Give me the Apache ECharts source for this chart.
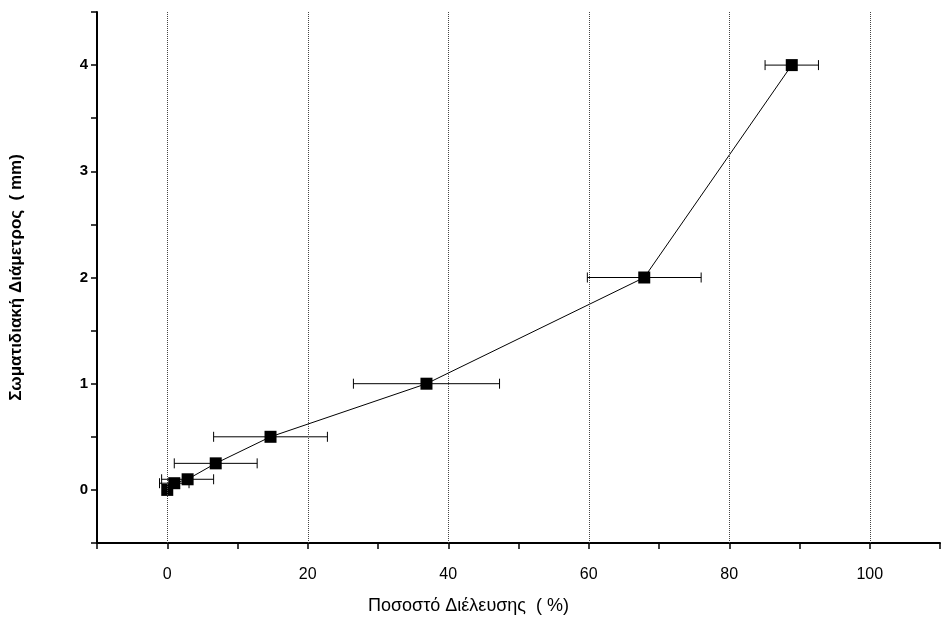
<!DOCTYPE html>
<html>
<head>
<meta charset="utf-8">
<script src="https://cdn.jsdelivr.net/npm/echarts@6/dist/echarts.min.js"></script>
<style>
    html, body {
        margin: 0;
        padding: 0;
        background: #ffffff;
    }

    #chart {
        width: 943px;
        height: 629px;
    }
</style>
</head>
<body>
<div id="chart"></div>
<script>
// 数据 - passing percentage vs particle diameter
var passPercent = [0, 1.0, 2.9, 6.9, 14.7, 36.9, 67.9, 88.9];
var diameterMm = [0, 0.063, 0.1, 0.25, 0.5, 1, 2, 4];
var passErr = [0.3, 2.1, 3.7, 5.9, 8.1, 10.4, 8.1, 3.8];
var gridXs = [0, 20, 40, 60, 80, 100];

var linePoints = passPercent.map(function (x, i) {
    return [x, diameterMm[i]];
});
var errPoints = passPercent.map(function (x, i) {
    return [x, diameterMm[i], x - passErr[i], x + passErr[i]];
});

var labelFont = 'Liberation Sans, Arial, sans-serif';

// horizontal error bars with caps
function renderErr(params, api) {
    var y = api.value(1);
    var lo = api.coord([api.value(2), y]);
    var hi = api.coord([api.value(3), y]);
    var h = 5;
    var st = {stroke: '#000', lineWidth: 1};
    return {
        type: 'group',
        children: [
            {type: 'line', shape: {x1: lo[0], y1: lo[1], x2: hi[0], y2: hi[1]}, style: st},
            {type: 'line', shape: {x1: lo[0], y1: lo[1] - h, x2: lo[0], y2: lo[1] + h}, style: st},
            {type: 'line', shape: {x1: hi[0], y1: hi[1] - h, x2: hi[0], y2: hi[1] + h}, style: st}
        ]
    };
}

var myChart = echarts.init(document.getElementById('chart'));
myChart.setOption({
    animation: false,
    grid: {left: 97, right: 1, top: 12, bottom: 86},
    xAxis: {
        type: 'value',
        min: -10,
        max: 110,
        interval: 10,
        name: 'Ποσοστό Διέλευσης  ( %)',
        nameLocation: 'middle',
        nameGap: 54,
        nameTextStyle: {
            fontFamily: labelFont,
            fontSize: 18,
            color: '#000',
            padding: [0, 100, 0, 0]
        },
        axisLine: {onZero: false, lineStyle: {color: '#000', width: 2}},
        axisTick: {length: 6, lineStyle: {color: '#000', width: 1.5}},
        axisLabel: {
            margin: 24,
            fontFamily: labelFont,
            fontSize: 16,
            color: '#000',
            formatter: function (v) {
                return (v >= 0 && v <= 100 && v % 20 === 0) ? String(v) : '';
            }
        },
        splitLine: {show: false}
    },
    yAxis: {
        type: 'value',
        min: -0.5,
        max: 4.5,
        interval: 0.5,
        name: 'Σωματιδιακή Διάμετρος  ( mm)',
        nameLocation: 'middle',
        nameGap: 72,
        nameRotate: 90,
        nameTextStyle: {
            fontFamily: labelFont,
            fontSize: 17,
            fontWeight: 'bold',
            color: '#000'
        },
        axisLine: {onZero: false, lineStyle: {color: '#000', width: 2}},
        axisTick: {length: 6, lineStyle: {color: '#000', width: 1.5}},
        axisLabel: {
            margin: 9,
            fontFamily: labelFont,
            fontSize: 15,
            fontWeight: 'bold',
            color: '#000',
            formatter: function (v) {
                return (v >= 0 && v % 1 === 0) ? String(v) : '';
            }
        },
        splitLine: {show: false}
    },
    series: [
        {
            type: 'custom',
            renderItem: renderErr,
            data: errPoints,
            encode: {x: [0, 2, 3], y: 1},
            z: 2,
            silent: true
        },
        {
            type: 'line',
            data: linePoints,
            symbol: 'rect',
            symbolSize: 12,
            itemStyle: {color: '#000'},
            lineStyle: {color: '#000', width: 1},
            z: 3,
            markLine: {
                silent: true,
                symbol: 'none',
                label: {show: false},
                lineStyle: {color: '#444', type: 'dotted', width: 1},
                data: gridXs.map(function (x) {
                    return {xAxis: x};
                })
            }
        }
    ]
});
</script>
</body>
</html>
